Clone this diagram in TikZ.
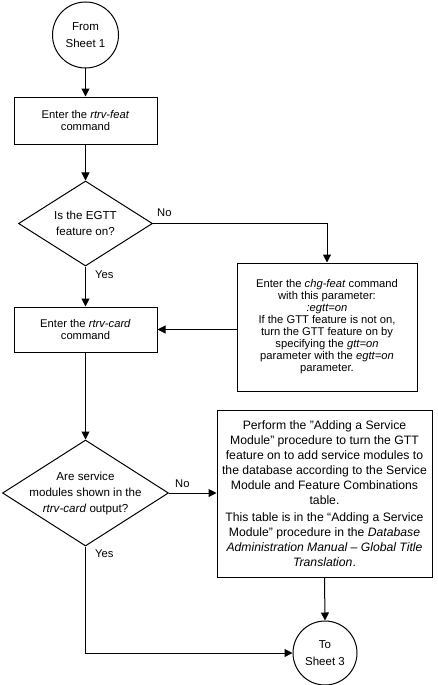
\documentclass[tikz,border=0pt]{standalone}
\usepackage{fontspec}
\setmainfont{Liberation Sans}
\usetikzlibrary{shapes.geometric,arrows.meta}
\begin{document}
\begin{tikzpicture}[x=1pt,y=-1pt,
  every node/.style={align=center, inner sep=0pt},
  box/.style={draw, line width=1pt, font=\fontsize{11.2}{12}\selectfont},
  bigbox/.style={draw, line width=1pt, font=\fontsize{12.2}{15}\selectfont},
  term/.style={draw, circle, line width=1pt, font=\fontsize{11.5}{16.5}\selectfont},
  dec/.style={draw, diamond, line width=1pt, aspect=1.57, inner sep=-14pt, font=\fontsize{11.6}{16}\selectfont},
  lbl/.style={font=\fontsize{11.2}{13}\selectfont, anchor=west},
  conn/.style={line width=1pt, -{Triangle[length=8pt,width=8pt]}},
  plain/.style={line width=1pt}]
\useasboundingbox (0,0) rectangle (438,685);
\node[term, minimum size=66pt] (c1) at (85.5,35) {From\\Sheet 1};
\node[box, minimum width=143pt, minimum height=47pt] (b1) at (85.5,120.5) {Enter the \textit{rtrv-feat}\\command};
\node[dec, minimum width=134pt, minimum height=85pt] (d1) at (85.5,223.5) {Is the EGTT\\feature on?};
\node[box, minimum width=180pt, minimum height=128pt] (b2) at (327,327) {Enter the \textit{chg-feat} command\\with this parameter:\\\textit{:egtt=on}\\If the GTT feature is not on,\\turn the GTT feature on by\\specifying the \textit{gtt=on}\\parameter with the \textit{egtt=on}\\parameter.};
\node[box, minimum width=143pt, minimum height=45pt] (b3) at (85.5,329.5) {Enter the \textit{rtrv-card}\\command};
\node[dec, minimum width=166pt, minimum height=106pt] (d2) at (85.5,493) {Are service\\modules shown in the\\\textit{rtrv-card} output?};
\node[bigbox, minimum width=215pt, minimum height=167pt] (b4) at (324.5,493.5) {Perform the "Adding a Service\\Module" procedure to turn the GTT\\feature on to add service modules to\\the database according to the Service\\Module and Feature Combinations\\table.\\[2.5pt]This table is in the “Adding a Service\\Module” procedure in the \textit{Database}\\\textit{Administration Manual – Global Title}\\\textit{Translation}.};
\node[term, minimum size=64pt] (c2) at (325,653) {To\\Sheet 3};

\draw[conn] (c1) -- (b1);
\draw[conn] (b1) -- (d1);
\draw[conn] (d1.east) -- (d1.east -| b2.north) -- (b2.north);
\node[lbl] (no1) at (157,213) {No};
\draw[conn] (d1.south) -- (b3.north);
\node[lbl] (yes1) at (95,275) {Yes};
\draw[conn] (b3.east -| b2.west) -- (b3.east);
\draw[conn] (b3) -- (d2);
\draw[conn] (d2.east) -- (b4.west |- d2.east);
\node[lbl] (no2) at (175,484) {No};
\draw[conn] (d2.south) -- (d2.south |- c2.west) -- (c2.west);
\node[lbl] (yes2) at (95,554) {Yes};
\draw[conn] (b4.south) -- (c2.north);
\end{tikzpicture}
\end{document}
